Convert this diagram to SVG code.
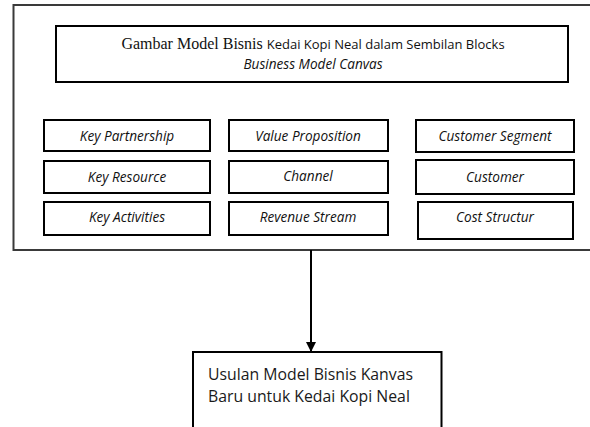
<svg xmlns="http://www.w3.org/2000/svg" width="590" height="427" viewBox="0 0 590 427">
<style>
.frame{fill:#fff;stroke:#3a3a3a;stroke-width:2}
.box{fill:#fff;stroke:#000;stroke-width:2}
.lbl{font-family:"Open Sans","Noto Sans",sans-serif;font-style:italic;font-size:13.6px;fill:#111;text-anchor:middle}
.body{font-family:"Open Sans","Noto Sans",sans-serif;font-size:15.8px;fill:#1a1a1a}
</style>
<defs>
<marker id="arr" viewBox="0 0 10 10" refX="10" refY="5" markerWidth="10" markerHeight="10" markerUnits="userSpaceOnUse" orient="auto">
<path d="M0,0 L10,5 L0,10 Z" fill="#000"/>
</marker>
</defs>
<rect width="590" height="427" fill="#fff"/>
<g id="canvas-frame">
<path class="frame" d="M600,5 H13.5 V250 H600"/>
</g>
<g id="title">
<rect class="box" x="56" y="26" width="512" height="56"/>
<text x="313" y="49" text-anchor="middle" fill="#111"><tspan font-family="Liberation Serif,serif" font-size="16">Gambar Model Bisnis </tspan><tspan font-family="Open Sans,Noto Sans,sans-serif" font-size="13">Kedai Kopi Neal dalam Sembilan Blocks</tspan></text>
<text x="313" y="69" class="lbl">Business Model Canvas</text>
</g>
<g id="key-partnership"><rect class="box" x="44" y="120" width="166" height="31"/><text class="lbl" x="127" y="141">Key Partnership</text></g>
<g id="key-resource"><rect class="box" x="44" y="161" width="166" height="32"/><text class="lbl" x="127" y="182">Key Resource</text></g>
<g id="key-activities"><rect class="box" x="44" y="202" width="166" height="33"/><text class="lbl" x="127" y="222">Key Activities</text></g>
<g id="value-proposition"><rect class="box" x="229" y="120" width="159" height="31"/><text class="lbl" x="308" y="141">Value Proposition</text></g>
<g id="channel"><rect class="box" x="229" y="161" width="159" height="32"/><text class="lbl" x="308" y="181">Channel</text></g>
<g id="revenue-stream"><rect class="box" x="229" y="202" width="159" height="33"/><text class="lbl" x="308" y="222">Revenue Stream</text></g>
<g id="customer-segment"><rect class="box" x="416" y="120" width="158" height="32"/><text class="lbl" x="495" y="141">Customer Segment</text></g>
<g id="customer"><rect class="box" x="416" y="160" width="158" height="34"/><text class="lbl" x="495" y="182">Customer</text></g>
<g id="cost-structur"><rect class="box" x="418" y="202" width="155" height="37"/><text class="lbl" x="495" y="222">Cost Structur</text></g>
<g id="connectors">
<line x1="311" y1="250" x2="311" y2="352" stroke="#000" stroke-width="2" marker-end="url(#arr)"/>
</g>
<g id="usulan">
<path class="box" d="M193,430 V352 H441.5 V430"/>
<text class="body" x="208" y="380">Usulan Model Bisnis Kanvas</text>
<text class="body" x="208" y="402">Baru untuk Kedai Kopi Neal</text>
</g>
</svg>
